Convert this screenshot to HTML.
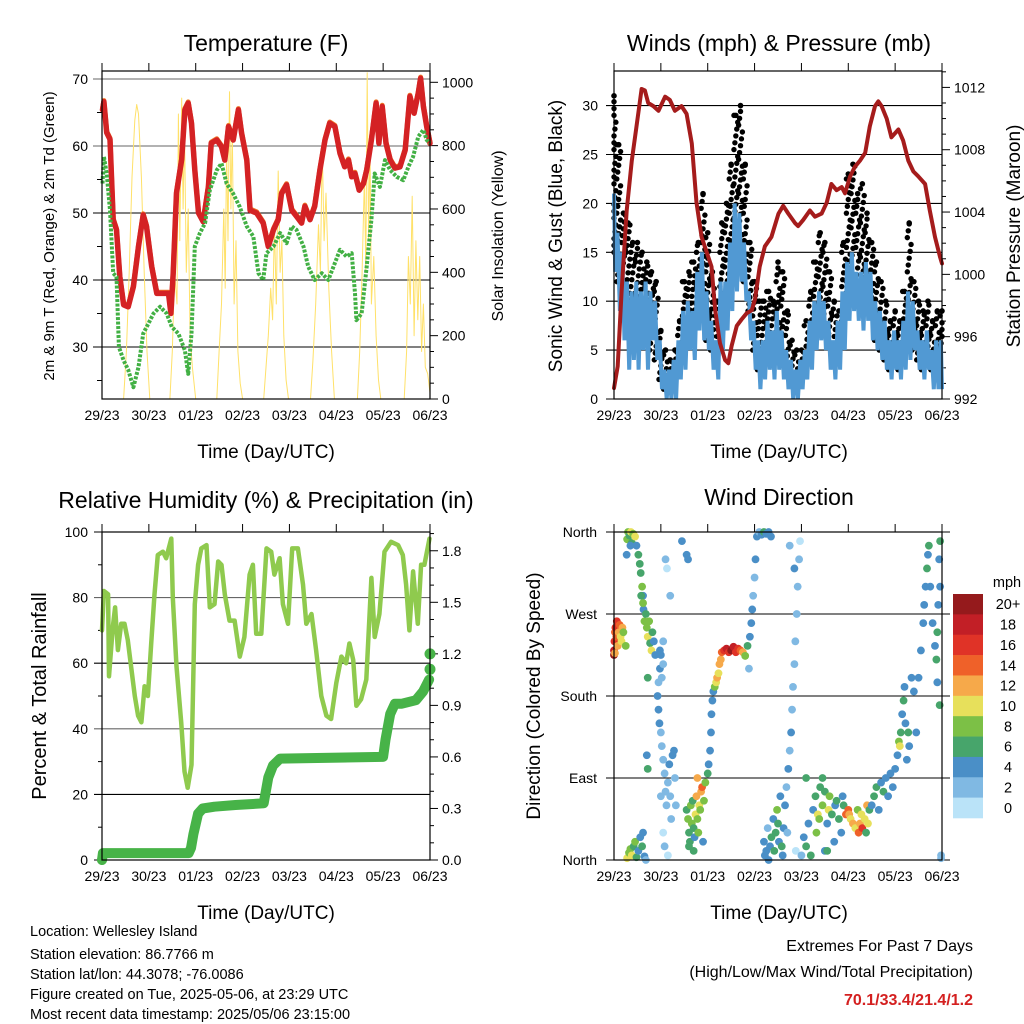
<!DOCTYPE html>
<html><head><meta charset="utf-8"><style>
body{margin:0;background:#fff;}
svg{display:block;font-family:"Liberation Sans",Arial,sans-serif;}
</style></head><body>
<svg id="root" width="1024" height="1024" viewBox="0 0 1024 1024" xmlns="http://www.w3.org/2000/svg">
<rect width="1024" height="1024" fill="#fff"/>
<g id="g1"></g>
<g id="g2"></g>
<g id="g3"></g>
<g id="g4"></g>
<text x="266" y="51" font-size="23" text-anchor="middle">Temperature (F)</text>
<text x="779" y="51" font-size="23" text-anchor="middle">Winds (mph) &amp; Pressure (mb)</text>
<text x="266" y="508" font-size="23" text-anchor="middle">Relative Humidity (%) &amp; Precipitation (in)</text>
<text x="779" y="505" font-size="23" text-anchor="middle">Wind Direction</text>
<text x="266" y="458" font-size="19" text-anchor="middle">Time (Day/UTC)</text>
<text x="779" y="458" font-size="19" text-anchor="middle">Time (Day/UTC)</text>
<text x="266" y="919" font-size="19" text-anchor="middle">Time (Day/UTC)</text>
<text x="779" y="919" font-size="19" text-anchor="middle">Time (Day/UTC)</text>
<text transform="translate(54,236) rotate(-90)" font-size="15" text-anchor="middle">2m &amp; 9m T (Red, Orange) &amp; 2m Td (Green)</text>
<text transform="translate(503,236) rotate(-90)" font-size="16" text-anchor="middle">Solar Insolation (Yellow)</text>
<text transform="translate(562,236) rotate(-90)" font-size="19" text-anchor="middle">Sonic Wind &amp; Gust (Blue, Black)</text>
<text transform="translate(1020,236) rotate(-90)" font-size="19" text-anchor="middle">Station Pressure (Maroon)</text>
<text transform="translate(46,696) rotate(-90)" font-size="20" text-anchor="middle">Percent &amp; Total Rainfall</text>
<text transform="translate(540,696) rotate(-90)" font-size="19" text-anchor="middle">Direction (Colored By Speed)</text>
<g font-size="14.5">
<text x="30" y="936">Location: Wellesley Island</text>
<text x="30" y="959">Station elevation: 86.7766 m</text>
<text x="30" y="979">Station lat/lon: 44.3078; -76.0086</text>
<text x="30" y="999">Figure created on Tue, 2025-05-06, at 23:29 UTC</text>
<text x="30" y="1019">Most recent data timestamp: 2025/05/06 23:15:00</text>
</g>
<text x="973" y="951" font-size="16" text-anchor="end">Extremes For Past 7 Days</text>
<text x="973" y="977" font-size="16" text-anchor="end">(High/Low/Max Wind/Total Precipitation)</text>
<text x="973" y="1005" font-size="16" font-weight="bold" fill="#d42020" text-anchor="end">70.1/33.4/21.4/1.2</text>
</svg>
<script>
const NS="http://www.w3.org/2000/svg";
const dayLabels=["29/23","30/23","01/23","02/23","03/23","04/23","05/23","06/23"];
// Temperature
const tempT=[0.01,0.04,0.10,0.17,0.24,0.31,0.38,0.46,0.56,0.67,0.78,0.88,0.95,1.06,1.17,1.31,1.42,1.47,1.52,1.59,1.70,1.77,1.84,1.91,1.98,2.06,2.16,2.27,2.33,2.45,2.55,2.62,2.70,2.80,2.91,2.98,3.09,3.16,3.30,3.44,3.55,3.66,3.76,3.83,3.94,4.05,4.15,4.26,4.33,4.44,4.54,4.65,4.76,4.86,4.97,5.08,5.18,5.26,5.33,5.40,5.49,5.58,5.65,5.75,5.85,5.91,5.98,6.06,6.15,6.25,6.36,6.47,6.57,6.66,6.75,6.80,6.86,6.93,7.00];
const tempV=[65.4,66.6,62,61,49,47.5,40.5,36.3,36,39,45,49.7,48,42,38,38,38,35,41,53,58,65.4,66.4,63.4,56.4,50,48.7,53.9,60.4,60.9,59.9,57.9,62.9,60.9,65.4,61.9,57.9,50.4,50,48.5,45,47.5,49,52.9,54.2,50.4,49.5,48.5,51,49,51,56.4,60.9,63.4,62.9,58.9,56.9,57.9,55.4,55.9,53.4,54.4,56.4,60.9,66.4,60.4,65.9,60.4,57.9,56.7,56.9,59.4,67.4,64.9,67.9,70.1,65.9,62.9,60.4];
const dewT=[0.01,0.04,0.10,0.17,0.24,0.31,0.36,0.46,0.56,0.67,0.78,0.88,0.99,1.10,1.24,1.38,1.49,1.63,1.77,1.84,1.91,1.98,2.09,2.20,2.30,2.45,2.55,2.66,2.80,2.94,3.09,3.23,3.34,3.44,3.51,3.66,3.80,3.94,4.05,4.15,4.30,4.40,4.54,4.69,4.83,4.94,5.08,5.22,5.33,5.40,5.43,5.54,5.65,5.75,5.82,5.93,6.04,6.15,6.29,6.43,6.54,6.64,6.75,6.86,6.93,7.00];
const dewV=[54.4,58.4,55.9,50.4,41,40.5,30,28,26.6,24,27,32,33.5,35,36,35,33,32,29.5,26,32,45,47,48.5,53.4,56.4,57.4,54.4,52.9,50.9,48,46.5,41,40,44,45,47,45.5,48,47.5,45,42,40,41,40,42,44.5,43.5,44,38,34,35,42,49,55.9,53.9,57.9,56.4,55.4,54.9,56.9,58.4,61.4,62.4,60.9,60.4];
const solarT=[0,0.46,0.52,0.58,0.64,0.70,0.74,0.78,0.84,0.90,0.96,1.02,1.45,1.50,1.55,1.60,1.63,1.66,1.70,1.73,1.76,1.80,1.84,1.88,1.93,2.0,2.45,2.5,2.55,2.6,2.63,2.66,2.69,2.72,2.75,2.78,2.82,2.86,2.9,2.95,3.0,3.45,3.5,3.55,3.6,3.64,3.68,3.72,3.76,3.8,3.84,3.88,3.93,3.98,4.45,4.5,4.56,4.62,4.66,4.70,4.74,4.78,4.84,4.9,4.96,5.45,5.5,5.55,5.6,5.63,5.66,5.69,5.72,5.75,5.8,5.85,5.9,5.95,6.45,6.5,6.54,6.58,6.62,6.66,6.7,6.74,6.78,6.82,6.86,6.9,6.95,7.0];
const solarV=[0,0,150,400,700,880,930,900,700,400,150,0,0,150,400,300,900,500,950,600,850,400,600,200,100,0,0,150,300,600,350,800,500,970,600,850,300,500,150,50,0,0,100,200,350,250,550,300,720,400,500,200,60,0,0,120,300,550,400,800,500,650,350,150,0,0,150,400,700,400,1030,500,800,300,450,200,60,0,0,150,450,300,640,200,500,250,450,150,300,100,80,20];
const tempTicks=[30,40,50,60,70];
const solarTicks=[0,200,400,600,800,1000];
// Winds (samples every 0.1 day)
const windLow=[13,9,6,3,4,3,5,3,6,4,1,0,0,0,2,3,5,4,7,6,5,3,2,5,7,9,11,12,10,6,3,1,2,3,2,3,2,1,0,0,1,2,3,5,6,5,3,2,3,5,8,9,8,7,8,6,5,4,3,2,3,2,3,4,5,3,2,3,1,1,1];
const windHigh=[21,17,15,12,11,12,11,12,11,10,6,3,3,4,6,9,10,9,13,15,11,8,6,12,12,16,20,19,16,11,8,6,6,8,7,9,7,5,4,3,4,5,8,10,11,10,8,6,8,11,14,15,13,13,14,13,10,9,8,6,7,6,8,11,10,7,6,7,5,6,6];
const gustLow=[15,12,9,8,8,7,7,8,5,4,2,1,1,2,3,5,7,7,8,9,6,5,5,8,10,12,15,14,12,9,5,3,3,4,4,5,6,3,2,1,2,4,6,7,9,8,6,5,5,8,12,14,12,11,10,9,6,5,4,3,4,3,4,6,5,4,3,4,3,4,5];
const gustHigh=[31,26,19,18,16,16,15,14,13,12,7,5,4,5,8,12,13,14,16,21,17,13,10,18,20,24,29,30,24,16,12,10,10,11,10,14,13,9,6,5,5,8,11,14,17,16,13,10,9,16,23,24,21,22,19,16,14,12,10,8,9,8,11,18,12,10,9,10,8,9,9];
const presT=[0,0.08,0.16,0.27,0.38,0.48,0.59,0.66,0.73,0.84,0.95,1.09,1.19,1.30,1.44,1.55,1.66,1.76,1.87,1.98,2.08,2.16,2.26,2.37,2.44,2.51,2.62,2.72,2.83,2.94,3.01,3.11,3.22,3.36,3.51,3.61,3.72,3.86,3.93,4.04,4.18,4.29,4.43,4.54,4.64,4.75,4.86,4.93,5.04,5.14,5.25,5.36,5.46,5.57,5.64,5.71,5.82,5.92,6.07,6.17,6.28,6.39,6.49,6.64,6.74,6.85,6.96,7.0];
const presV=[992.7,994.1,998.8,1004.1,1007.3,1009.5,1011.9,1011.8,1011,1010.8,1010.5,1011.4,1011.2,1010.5,1010.8,1010.3,1008.4,1004.6,1002.4,1001.4,1000.5,997.7,995.6,994.5,994.3,995.4,996.7,997.1,997.5,997.7,998.4,1000.5,1001.8,1002.4,1003.9,1004.4,1003.9,1003.3,1003.1,1003.5,1004.1,1003.7,1003.9,1004.6,1005.8,1005.4,1005.6,1005.2,1006.3,1006.9,1007.3,1007.8,1009.5,1010.8,1011.1,1010.8,1010,1008.8,1009.3,1008.6,1007.3,1006.6,1006.3,1005.8,1004.1,1002.4,1001.1,1000.7];
const windTicks=[0,5,10,15,20,25,30];
const presTicks=[992,996,1000,1004,1008,1012];
// Humidity & precipitation
const rhT=[0,0.04,0.13,0.15,0.23,0.28,0.34,0.41,0.48,0.55,0.63,0.70,0.77,0.84,0.91,0.98,1.05,1.12,1.19,1.30,1.37,1.48,1.51,1.59,1.69,1.76,1.83,1.91,1.98,2.05,2.12,2.23,2.30,2.40,2.48,2.55,2.62,2.72,2.83,2.94,3.04,3.15,3.22,3.29,3.40,3.51,3.61,3.68,3.79,3.86,3.97,4.06,4.18,4.29,4.36,4.47,4.57,4.68,4.79,4.89,5.00,5.11,5.21,5.28,5.36,5.43,5.53,5.64,5.75,5.82,5.92,6.03,6.17,6.32,6.42,6.49,6.56,6.64,6.74,6.81,6.88,6.99];
const rhV=[70,82,81,56,71,77,64,72,72,67,58,50,44,42,53,50,66,81,93,94,92,98,80,59,42,27,22,29,78,90,95,96,77,78,91,90,81,73,73,62,68,87,90,69,69,95,94,87,92,78,72,95,95,84,72,75,64,50,44,43,54,62,60,66,61,47,49,55,86,68,75,94,97,96,93,84,70,88,72,90,90,98];
const prT=[0,0.02,1.85,1.90,1.95,2.05,2.15,2.4,2.85,3.45,3.55,3.65,3.8,6.0,6.05,6.15,6.25,6.4,6.7,6.85,6.98];
const prV=[0.0,0.04,0.04,0.07,0.15,0.27,0.30,0.31,0.32,0.33,0.48,0.55,0.59,0.60,0.70,0.85,0.91,0.91,0.93,0.98,1.05];
const prDotV=[1.11,1.20];
const rhTicks=[0,20,40,60,80,100];
const prTicks=[0.0,0.3,0.6,0.9,1.2,1.5,1.8];
// Wind direction
const dirT=[0.0,0.01,0.02,0.03,0.05,0.06,0.08,0.10,0.12,0.14,0.16,0.18,0.20,0.25,0.0,0.02,
0.28,0.3,0.33,0.36,0.38,0.41,0.45,0.48,0.52,0.55,0.57,0.60,0.62,0.63,0.65,0.68,0.70,0.72,0.75,0.77,0.80,0.82,0.85,0.88,0.72,0.70,0.72,0.27,0.35,0.58,0.62,
0.28,0.32,0.35,0.38,0.42,0.45,0.48,0.52,0.56,0.60,0.62,0.65,0.68,
0.93,0.95,0.97,1.0,1.02,1.05,1.08,1.1,1.12,1.15,1.18,1.2,1.22,1.25,1.28,1.3,1.32,1.0,1.05,1.08,1.15,0.95,0.98,1.0,1.02,1.05,0.98,1.05,1.1,1.13,1.2,1.45,1.55,1.58,
1.55,1.58,1.6,1.62,1.64,1.66,1.68,1.7,1.72,1.74,1.76,1.78,1.8,1.82,1.84,1.86,1.88,1.9,1.6,1.7,1.78,1.92,1.95,
2.0,2.02,2.05,2.07,2.08,2.1,2.12,2.15,2.18,2.2,2.23,2.25,2.28,2.3,2.35,2.4,2.45,2.5,2.55,2.6,2.65,2.7,2.75,2.8,2.85,2.9,2.93,2.95,2.97,3.0,3.02,3.05,3.1,3.15,3.2,3.25,3.3,3.35,2.88,
3.2,3.22,3.25,3.28,3.3,3.33,3.36,3.4,3.42,3.45,3.48,3.5,3.52,3.55,3.58,3.6,3.62,3.65,3.68,3.7,3.72,3.75,3.78,3.8,3.82,3.85,3.87,3.9,3.92,3.95,3.97,3.85,3.75,3.88,4.0,
4.05,4.1,4.15,4.2,4.25,4.3,4.32,4.35,4.38,4.4,4.45,4.5,4.55,4.58,4.6,4.65,4.7,4.72,4.75,4.8,4.85,4.88,4.9,4.95,5.0,5.02,5.05,5.1,5.15,5.2,5.22,5.25,5.28,5.3,5.35,5.38,5.4,5.42,5.45,4.45,4.5,4.1,4.55,
5.5,5.55,5.6,5.65,5.7,5.75,5.8,5.85,5.9,5.95,6.0,6.05,6.08,6.1,6.12,6.15,6.18,6.2,6.22,6.25,6.28,6.3,6.35,6.4,6.45,6.5,6.55,6.6,6.62,6.65,6.68,6.7,6.72,6.75,6.8,6.85,6.88,6.9,6.92,6.94,6.96,6.98,6.9,6.95,6.98,6.96];
const dirD=[230,240,250,255,245,262,235,250,258,245,240,255,250,235,225,227,
352,360,356,360,348,358,355,345,335,325,315,300,290,275,262,270,255,245,262,238,230,250,240,225,200,115,100,335,345,290,282,
2,8,12,5,15,20,3,10,25,15,30,4,0,
180,165,150,140,125,110,95,75,60,85,105,70,45,115,120,90,60,70,30,15,5,195,210,225,200,215,230,240,330,320,290,350,335,330,
55,45,30,20,60,40,65,35,25,50,70,45,30,60,55,75,80,20,15,10,90,65,85,
95,105,120,140,160,175,185,190,195,200,205,215,220,228,230,232,228,230,234,228,232,230,228,224,235,245,260,275,290,310,330,355,360,357,360,358,360,355,210,
20,5,10,35,0,15,25,45,10,30,55,40,20,70,15,5,35,60,80,30,100,120,140,165,190,215,240,270,300,330,350,320,345,10,5,
25,15,40,5,55,70,30,50,45,80,60,75,40,55,70,50,20,60,65,45,30,70,60,50,55,50,45,40,35,55,30,40,50,35,45,30,60,40,55,90,10,90,10,
60,70,80,55,85,75,90,70,95,80,100,115,130,125,140,160,175,190,150,110,140,125,200,185,140,200,230,260,280,300,320,335,345,300,260,235,220,250,280,330,350,2,195,170,5,300];
const dirS=[18,16,14,17,15,16,13,12,14,11,10,12,9,8,20,13,
8,9,7,10,6,8,10,5,7,6,6,8,5,5,8,7,9,10,8,6,11,6,5,4,6,4,6,4,4,7,8,
10,9,8,10,6,8,7,5,4,6,4,4,3,
4,4,4,2,2,3,2,2,3,2,4,3,2,4,4,3,2,2,1,2,1,3,4,4,3,2,4,2,2,1,2,4,4,4,
6,8,6,6,8,9,6,7,5,10,12,8,8,10,9,12,14,5,6,6,13,9,8,
6,4,4,4,4,4,5,8,10,12,10,12,13,14,16,18,17,20,18,16,17,15,12,8,6,4,4,4,2,2,4,4,3,4,6,4,5,4,2,
4,4,4,2,4,4,6,4,6,6,8,6,4,4,6,4,4,4,2,2,4,2,4,2,2,2,2,2,2,2,0,4,2,0,2,
4,6,4,6,4,6,8,10,8,6,8,6,4,10,8,6,4,4,6,6,4,4,6,14,14,12,10,12,10,8,14,12,10,16,10,6,12,10,6,6,4,6,6,
4,6,6,4,4,6,4,4,4,4,4,4,8,10,6,4,6,4,4,4,6,4,4,4,4,4,4,4,4,4,6,4,6,4,4,4,6,6,4,4,6,2,4,6,2,4];
const dirTicks=["North","East","South","West","North"];
const speedLabels=["20+","18","16","14","12","10","8","6","4","2","0"];
const speedColors=["#951a1c","#c21f26","#e03327","#ef6129","#f6a94a","#e7e05b","#7cc046","#47a56b","#4a8fc7","#80b9e3","#bae3f8"];

function el(tag,attrs,parent){const e=document.createElementNS(NS,tag);for(const k in attrs)e.setAttribute(k,attrs[k]);parent.appendChild(e);return e;}
const days=[0,1,2,3,4,5,6,7];
function axes(g,x0,x1,y0,y1){
  days.forEach((d,i)=>{const x=x0+d*(x1-x0)/7;
    const tk=el('line',{x1:x,x2:x,y1:y0-8,y2:y0,stroke:'#000','stroke-width':1},g);
    
    
    const tl=el('text',{x:x,y:y1+21,'font-size':14,'text-anchor':'middle'},g);tl.textContent=dayLabels[i];
    
    
  });
}
function frame(g,x0,x1,y0,y1){
  const r=el('rect',{x:x0,y:y0,width:x1-x0,height:y1-y0,fill:'none',stroke:'#000','stroke-width':1.2},g);
  
  
}
function hgrid(g,y,xa,xb,col){const l=el('line',{x1:xa,x2:xb,y1:y,y2:y,stroke:col||'#000','stroke-width':1.1},g);
  
  }
function ylab(g,x,y,txt,anchor){const t=el('text',{x:x,y:y+5,'font-size':14,'text-anchor':anchor},g);t.textContent=txt;
  
  }
function rtick(g,x,y,len){const l=el('line',{x1:x,x2:x+len,y1:y,y2:y,stroke:'#000','stroke-width':1},g);
  
  }
function polyline(g,xs,ys,attrs,name){const pts=xs.map((x,i)=>x.toFixed(1)+','+ys[i].toFixed(1)).join(' ');
  const p=el('polyline',Object.assign({points:pts,fill:'none','stroke-linejoin':'round','stroke-linecap':'round'},attrs),g);
  
  return p;}

// ===== Panel 1 =====
(function(){
  const g=document.getElementById('g1');const x0=102,x1=430,y0=71,y1=399;
  const X=t=>x0+t*(x1-x0)/7, Y=v=>79+(70-v)*6.7, YS=v=>399-v*0.3167;
  tempTicks.forEach(v=>{hgrid(g,Y(v),93,x1,v>=60?'#666':'#000');ylab(g,88,Y(v),String(v),'end');});
  [25,35,45,55,65].forEach(v=>{const l=el('line',{x1:97,x2:x0,y1:Y(v),y2:Y(v),stroke:'#000'},g);});
  solarTicks.forEach(v=>{rtick(g,x1,YS(v),8);ylab(g,x1+12,YS(v),String(v),'start');});
  [50,100,150,250,300,350,450,500,550,650,700,750,850,900,950].forEach(v=>rtick(g,x1,YS(v),4));
  polyline(g,solarT.map(X),solarV.map(YS),{stroke:'#ffe169','stroke-width':1},'solar-line');
  polyline(g,tempT.map(X),tempV.map(v=>Y(v)-1.2),{stroke:'#f07a2a','stroke-width':5},'temp-9m-line');
  polyline(g,tempT.map(X),tempV.map(Y),{stroke:'#d42224','stroke-width':5.5},'temp-2m-line');
  polyline(g,dewT.map(X),dewV.map(Y),{stroke:'#42b044','stroke-width':4,'stroke-dasharray':'3 1.5','stroke-linecap':'butt'},'dewpoint-line');
  frame(g,x0,x1,y0,y1);axes(g,x0,x1,y0,y1);
})();
// ===== Panel 2 =====
(function(){
  const g=document.getElementById('g2');const x0=614,x1=942,y0=71,y1=399;
  const X=t=>x0+Math.min(7,Math.max(0,t))*(x1-x0)/7, Y=v=>399-v*9.78, YP=p=>399-(p-992)*15.58;
  windTicks.forEach(v=>{if(v>0)hgrid(g,Y(v),606,x1);else{const l=el('line',{x1:606,x2:x0,y1:Y(v),y2:Y(v),stroke:'#000'},g);}ylab(g,598,Y(v),String(v),'end');});
  presTicks.forEach(v=>{rtick(g,x1,YP(v),8);ylab(g,x1+12,YP(v),String(v),'start');});
  [993,994,995,997,998,999,1001,1002,1003,1005,1006,1007,1009,1010,1011,1013].forEach(v=>rtick(g,x1,YP(v),4));
  const wt=windLow.map((_,i)=>i/10);
  gustLow.forEach((lo,i)=>{let k=0;for(let v=lo;v<=gustHigh[i];v+=0.7){const dx=((k%5)-2)*0.02;
      const c=el('circle',{cx:X(wt[i]+dx),cy:Y(v),r:2.7,fill:'#000'},g);
      
      k++;}
    const c2=el('circle',{cx:X(wt[i]),cy:Y(gustHigh[i]),r:2.8,fill:'#000'},g);
    
    });
  const pts=[];
  wt.forEach((t,i)=>{pts.push(X(t-0.025).toFixed(1)+','+Y(windHigh[i]).toFixed(1));pts.push(X(t+0.025).toFixed(1)+','+Y(windLow[i]).toFixed(1));});
  const band=el('polyline',{points:pts.join(' '),fill:'none',stroke:'#5199d3','stroke-width':4,'stroke-linejoin':'miter'},g);
  
  
  polyline(g,presT.map(X),presV.map(YP),{stroke:'#a51c1c','stroke-width':4},'pressure-line');
  frame(g,x0,x1,y0,y1);axes(g,x0,x1,y0,y1);
})();
// ===== Panel 3 =====
(function(){
  const g=document.getElementById('g3');const x0=102,x1=430,y0=532,y1=860;
  const X=t=>x0+t*(x1-x0)/7, Y=v=>860-v*3.28, YR=v=>860-v*171.8;
  rhTicks.forEach(v=>{if(v>0&&v<100)hgrid(g,Y(v),94,x1,(v==80||v==40)?'#666':'#000');else{const l=el('line',{x1:94,x2:x0,y1:Y(v),y2:Y(v),stroke:'#000'},g);}ylab(g,88,Y(v),String(v),'end');});
  [10,30,50,70,90].forEach(v=>{const l=el('line',{x1:98,x2:x0,y1:Y(v),y2:Y(v),stroke:'#000'},g);});
  prTicks.forEach(v=>{rtick(g,x1,YR(v),8);ylab(g,x1+12,YR(v),v.toFixed(1),'start');});
  [0.1,0.2,0.4,0.5,0.7,0.8,1.0,1.1,1.3,1.4,1.6,1.7,1.9].forEach(v=>rtick(g,x1,YR(v),4));
  polyline(g,rhT.map(X),rhV.map(Y),{stroke:'#8fca4e','stroke-width':4.5},'humidity-line');
  polyline(g,prT.map(X),prV.map(YR),{stroke:'#47b348','stroke-width':10},'precip-line');
  prDotV.forEach(v=>{const c=el('circle',{cx:X(7),cy:YR(v),r:5.5,fill:'#47b348'},g);});
  const c0=el('circle',{cx:X(0),cy:YR(0),r:5,fill:'#47b348'},g);
  frame(g,x0,x1,y0,y1);axes(g,x0,x1,y0,y1);
})();
// ===== Panel 4 =====
(function(){
  const g=document.getElementById('g4');const x0=614,x1=942,y0=532,y1=860;
  const X=t=>x0+t*(x1-x0)/7, Y=d=>860-d*0.9111;
  dirTicks.forEach((lab,i)=>{const y=Y(i*90);hgrid(g,y,606,950);ylab(g,597,y,lab,'end');});
  dirT.forEach((t,i)=>{const idx=Math.max(0,Math.min(10,Math.floor(dirS[i]/2)));
    const c=el('circle',{cx:X(t),cy:Y(dirD[i]),r:3.9,fill:speedColors[10-idx]},g);
    
    });
  frame(g,x0,x1,y0,y1);axes(g,x0,x1,y0,y1);
  const cb=el('g',{},g);
  
  
  const bh=(818-594)/11;
  speedLabels.forEach((lab,i)=>{const r=el('rect',{x:953,y:594+i*bh,width:30,height:bh+0.3,fill:speedColors[i]},cb);
    
    
    const t=el('text',{x:1008,y:594+i*bh+bh/2+5,'font-size':14.5,'text-anchor':'middle'},cb);t.textContent=lab;
    
    });
  const u=el('text',{x:1007,y:587,'font-size':14.5,'text-anchor':'middle'},cb);u.textContent='mph';
  
  
})();
</script>
</body></html>
